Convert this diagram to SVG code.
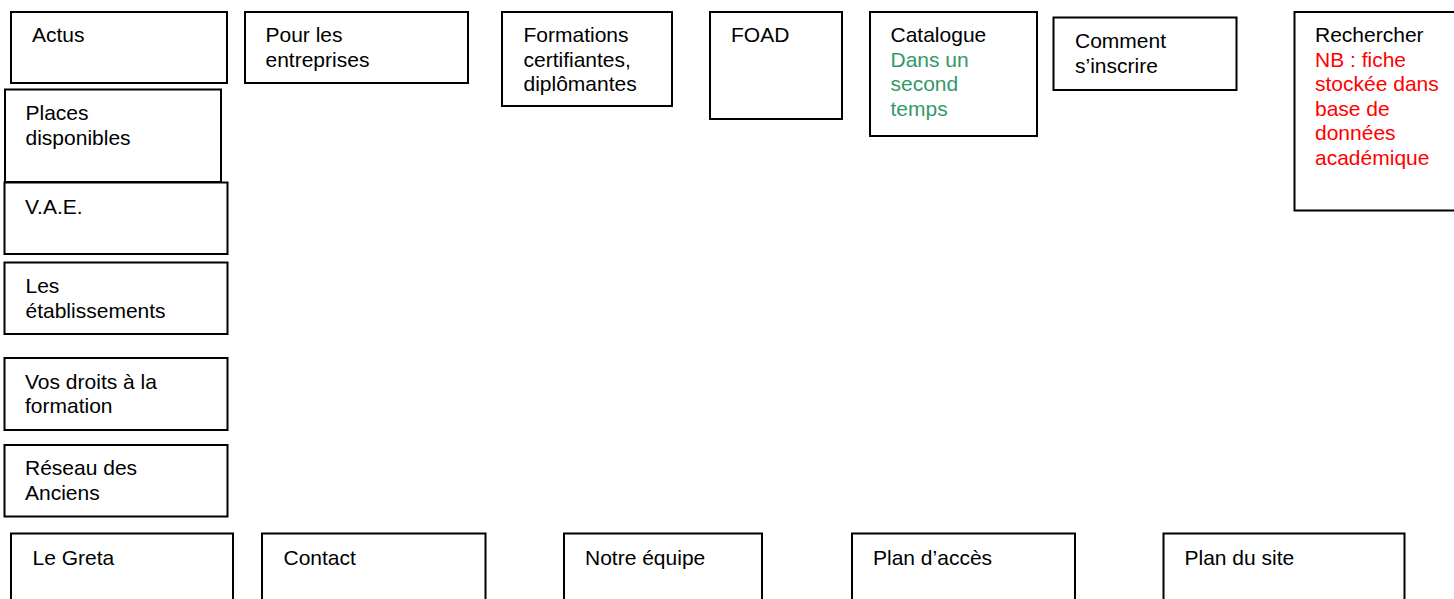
<svg xmlns="http://www.w3.org/2000/svg" width="1454" height="599" viewBox="0 0 1454 599">
<style>
rect.box{fill:#ffffff;stroke:#000000;stroke-width:2}
text{font-family:"Liberation Sans",Arial,Helvetica,sans-serif;font-size:21px;fill:#000000}
.green{fill:#339966}
.red{fill:#ff0000}
</style>
<rect x="0" y="0" width="1454" height="599" fill="#ffffff"/>
<g id="connectors"></g>
<g id="actus"><rect class="box" x="11" y="12" width="216" height="71"/><text x="32" y="42">Actus</text></g>
<g id="entreprises"><rect class="box" x="245" y="12" width="223" height="71"/><text x="265.5" y="42">Pour les</text><text x="265.5" y="66.5">entreprises</text></g>
<g id="formations"><rect class="box" x="502" y="12" width="170" height="94"/><text x="523.5" y="42">Formations</text><text x="523.5" y="66.5">certifiantes,</text><text x="523.5" y="91">diplômantes</text></g>
<g id="foad"><rect class="box" x="710" y="12" width="132" height="107"/><text x="731" y="42">FOAD</text></g>
<g id="catalogue"><rect class="box" x="870" y="12" width="167" height="124"/><text x="890.5" y="42">Catalogue</text><text class="green" x="890.5" y="66.5">Dans un</text><text class="green" x="890.5" y="91">second</text><text class="green" x="890.5" y="115.5">temps</text></g>
<g id="inscrire"><rect class="box" x="1053.5" y="17.5" width="183" height="72.5"/><text x="1075" y="48">Comment</text><text x="1075" y="72.5">s’inscrire</text></g>
<g id="rechercher"><rect class="box" x="1294.5" y="12" width="170" height="198.5"/><text x="1315" y="42">Rechercher</text><text class="red" x="1315" y="66.5">NB : fiche</text><text class="red" x="1315" y="91">stockée dans</text><text class="red" x="1315" y="115.5">base de</text><text class="red" x="1315" y="140">données</text><text class="red" x="1315" y="164.5">académique</text></g>
<g id="places"><rect class="box" x="5" y="89.5" width="216" height="92.5"/><text x="25.5" y="120">Places</text><text x="25.5" y="144.5">disponibles</text></g>
<g id="vae"><rect class="box" x="4.5" y="182.5" width="223" height="71.5"/><text x="25" y="214">V.A.E.</text></g>
<g id="etablissements"><rect class="box" x="4.5" y="262.5" width="223" height="71.5"/><text x="25.5" y="293">Les</text><text x="25.5" y="317.5">établissements</text></g>
<g id="droits"><rect class="box" x="4.5" y="358" width="223" height="72"/><text x="25" y="388.5">Vos droits à la</text><text x="25" y="413">formation</text></g>
<g id="anciens"><rect class="box" x="4.5" y="445" width="223" height="71.5"/><text x="25" y="475">Réseau des</text><text x="25" y="499.5">Anciens</text></g>
<g id="greta"><rect class="box" x="11" y="533.5" width="222" height="80"/><text x="32.5" y="565">Le Greta</text></g>
<g id="contact"><rect class="box" x="262" y="533.5" width="223.5" height="80"/><text x="283.5" y="565">Contact</text></g>
<g id="equipe"><rect class="box" x="564" y="533.5" width="198" height="80"/><text x="585" y="565">Notre équipe</text></g>
<g id="acces"><rect class="box" x="852" y="533.5" width="223" height="80"/><text x="873" y="565">Plan d’accès</text></g>
<g id="plansite"><rect class="box" x="1163.5" y="533.5" width="241" height="80"/><text x="1184.5" y="565">Plan du site</text></g>
</svg>
